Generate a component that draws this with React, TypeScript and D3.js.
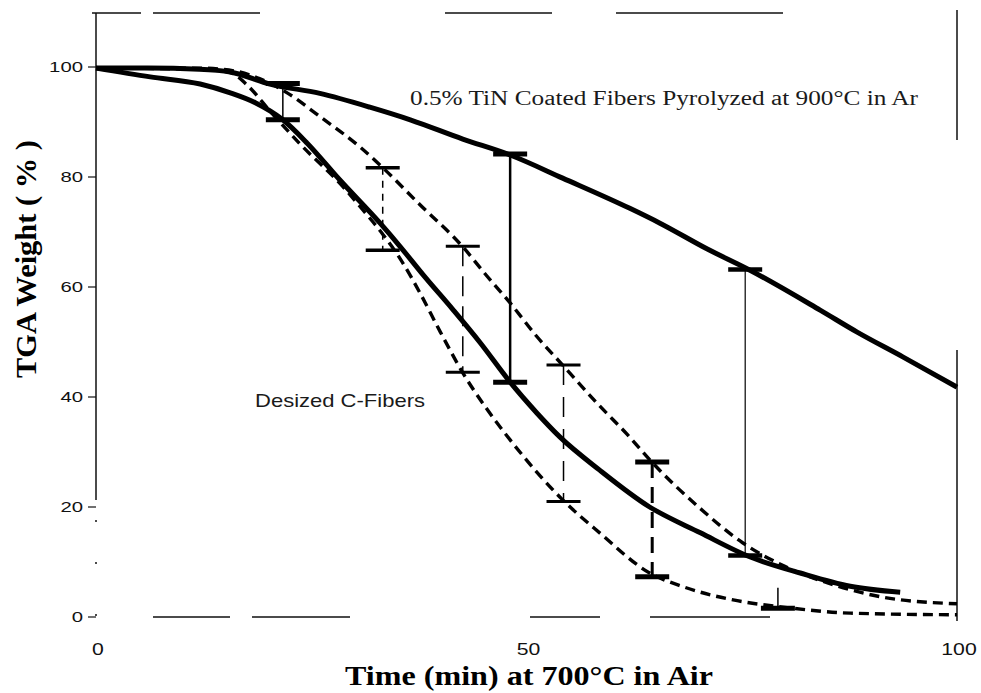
import React from 'react';
import * as d3 from 'd3';

// TGA curves: time (min) vs weight (%)
const timeTiN = [0, 6, 12, 15.6, 20.2, 26, 31.8, 36.5, 42.6, 48.1, 54.2, 62, 65.5, 71, 75.9, 84.1, 88.4, 93.7, 100];
const weightTiN = [99.8, 99.8, 99.6, 99.1, 96.9, 95.2, 92.7, 90.4, 86.9, 84.0, 79.8, 74.3, 71.6, 66.9, 63.1, 55.8, 51.8, 47.3, 41.8];

const timeDesized = [0, 6.3, 12.1, 15.6, 18.5, 21.7, 24.5, 28.3, 33.0, 35.3, 38.0, 41.5, 44.6, 48.1, 51.2, 53.9, 58.5, 64.3, 70.2, 76.0, 81.8, 87.6, 93.4];
const weightDesized = [99.8, 98.2, 96.9, 95.3, 93.5, 90.4, 86.2, 79.5, 71.6, 67.4, 62.2, 55.8, 49.9, 42.7, 37.1, 32.7, 26.7, 20.0, 15.3, 10.9, 8.0, 5.6, 4.5];

const timeUpperDash = [0, 12, 16, 19, 22.2, 26, 30.7, 33.3, 37.6, 42.6, 45.4, 48.1, 51.2, 54.2, 58.3, 61.7, 64.3, 70.2, 75.1, 80, 86, 91.4, 100];
const weightUpperDash = [99.8, 99.8, 99.3, 97.9, 95.3, 91.0, 85.4, 81.7, 75.0, 67.3, 62.0, 57.1, 51.0, 45.8, 38.7, 33.2, 28.6, 19.7, 13.5, 9.2, 5.7, 3.6, 2.4];

const timeLowerDash = [0, 12, 15.6, 17.5, 20.2, 23.7, 28.7, 31.0, 33.3, 35.3, 37.6, 40.0, 42.6, 45.4, 48.1, 54.2, 58.5, 64.3, 68.2, 74.0, 79.8, 87.6, 100];
const weightLowerDash = [99.8, 99.6, 99.0, 96.8, 92.0, 86.0, 78.2, 74.0, 69.6, 65.2, 59.0, 51.8, 44.4, 37.8, 32.2, 21.3, 15.3, 8.0, 5.5, 3.1, 1.8, 0.7, 0.4];

// error bars
const errTime = [21.7, 33.3, 42.6, 48.1, 54.3, 64.6, 75.4, 79.2];
const errHigh = [97.0, 81.7, 67.4, 84.2, 45.8, 28.2, 63.2, 5.3];
const errLow = [90.4, 66.7, 44.5, 42.7, 21.0, 7.3, 11.2, 1.6];
const errStemWidth = [1.5, 1.5, 1.5, 2.5, 1.5, 3, 1.2, 1.5];
const errStemDash = ['none', '7 6', '20 10', 'none', '20 12', '16 9', 'none', 'none'];
const errCapWidth = [5, 3.5, 3, 5, 3, 5, 4.5, 5];
const errTopCap = [true, true, true, true, true, true, true, false];

const yTicks = [0, 20, 40, 60, 80, 100];
const xTicks = [0, 50, 100];

const W = 981;
const H = 693;

const App = () => {
  const x = d3.scaleLinear().domain([0, 100]).range([96, 957]);
  const y = d3.scaleLinear().domain([0, 110]).range([617, 12]);

  const line = d3
    .line<[number, number]>()
    .x(d => x(d[0]))
    .y(d => y(d[1]))
    .curve(d3.curveMonotoneX);

  const zip = (t: number[], w: number[]) => t.map((v, i) => [v, w[i]] as [number, number]);

  const x0 = x(0), x1 = x(100), yb = y(0), yt = y(110);
  const serif = '"Liberation Serif", "Times New Roman", serif';
  const sans = '"Liberation Sans", Arial, sans-serif';

  return (
    <svg width={W} height={H} style={{ position: 'absolute', left: 0, top: 0, background: '#fff' }}>
      <rect x={0} y={0} width={W} height={H} fill="#fff" />

      {/* frame, with the gaps of the scanned original */}
      <g stroke="#111" strokeWidth={1.5} fill="none">
        <line x1={x0 - 4} y1={yt + 1} x2={x1} y2={yt + 1} strokeDasharray="49 12 107 185 107 64 167 400" />
        <line x1={x0} y1={yb} x2={x1} y2={yb} strokeDasharray="0 57 77 22 98 180 70 50 120 400" />
        <line x1={x1} y1={yt - 2} x2={x1} y2={yb + 4} strokeDasharray="130 210 400" />
        <line x1={x0} y1={yt + 1} x2={x0} y2={yb} strokeDasharray="487 20 2 40 2 50 2 400" />
      </g>

      {/* y ticks */}
      {yTicks.map(v => (
        <g key={'yt' + v}>
          <line x1={x0 - 8} x2={x0} y1={y(v)} y2={y(v)} stroke="#111" strokeWidth={1.2} />
          <text
            x={83}
            y={y(v) + 5}
            textAnchor="end"
            fontFamily={sans}
            fontSize={15}
            textLength={String(v).length * 11.3}
            lengthAdjust="spacingAndGlyphs"
            fill="#111"
          >
            {v}
          </text>
        </g>
      ))}

      {/* x tick labels */}
      {xTicks.map(v => (
        <text
          key={'xt' + v}
          x={x(v) + 2}
          y={655}
          textAnchor="middle"
          fontFamily={sans}
          fontSize={17}
          textLength={String(v).length * 11.8}
          lengthAdjust="spacingAndGlyphs"
          fill="#111"
        >
          {v}
        </text>
      ))}

      {/* curves */}
      <g fill="none" stroke="#000" strokeLinejoin="round">
        <path d={line(zip(timeUpperDash, weightUpperDash)) || ''} strokeWidth={3.4} strokeDasharray="10 6" />
        <path d={line(zip(timeLowerDash, weightLowerDash)) || ''} strokeWidth={3.4} strokeDasharray="10 6" />
        <path d={line(zip(timeTiN, weightTiN)) || ''} strokeWidth={5} />
        <path d={line(zip(timeDesized, weightDesized)) || ''} strokeWidth={5} />
      </g>

      {/* error bars */}
      <g stroke="#000">
        {errTime.map((t, i) => {
          const cx = x(t);
          const half = 17;
          return (
            <g key={'eb' + i}>
              <line
                x1={cx}
                x2={cx}
                y1={y(errHigh[i])}
                y2={y(errLow[i])}
                strokeWidth={errStemWidth[i]}
                strokeDasharray={errStemDash[i]}
              />
              {errTopCap[i] && (
                <line x1={cx - half} x2={cx + half} y1={y(errHigh[i])} y2={y(errHigh[i])} strokeWidth={errCapWidth[i]} />
              )}
              <line x1={cx - half} x2={cx + half} y1={y(errLow[i])} y2={y(errLow[i])} strokeWidth={errCapWidth[i]} />
            </g>
          );
        })}
      </g>

      {/* annotations */}
      <text x={410} y={105} fontFamily={serif} fontSize={20} textLength={508} lengthAdjust="spacingAndGlyphs" fill="#1a1a1a">
        0.5% TiN Coated Fibers Pyrolyzed at 900°C in Ar
      </text>
      <text x={255} y={407} fontFamily={sans} fontSize={19} textLength={170} lengthAdjust="spacingAndGlyphs" fill="#1a1a1a">
        Desized C-Fibers
      </text>

      {/* axis titles */}
      <text
        x={529}
        y={685}
        textAnchor="middle"
        fontFamily={serif}
        fontWeight="bold"
        fontSize={27}
        textLength={368}
        lengthAdjust="spacingAndGlyphs"
        fill="#000"
      >
        Time (min) at 700°C in Air
      </text>
      <text
        transform={`translate(36,259) rotate(-90)`}
        textAnchor="middle"
        fontFamily={serif}
        fontWeight="bold"
        fontSize={30}
        textLength={238}
        lengthAdjust="spacingAndGlyphs"
        fill="#000"
      >
        TGA Weight ( % )
      </text>
    </svg>
  );
};

export default App;
